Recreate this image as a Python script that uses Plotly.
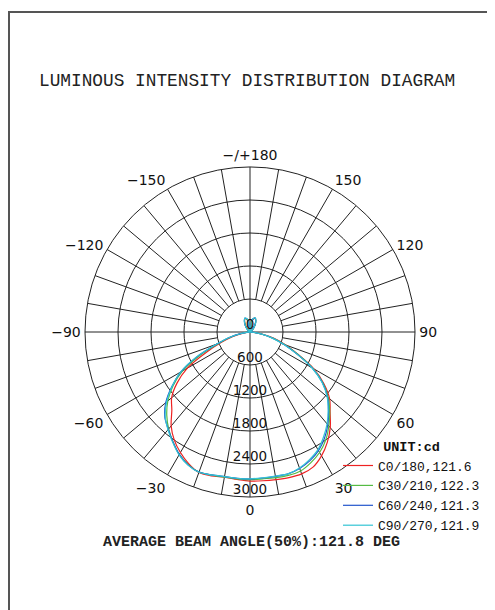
import plotly.graph_objects as go

# ---------------- data ----------------
THETA = [-180, -170, -160, -150, -140, -130, -120, -110, -100,
         -90, -85, -80, -75, -70, -65, -60, -55, -50, -45, -40, -35, -30, -25, -20, -15, -10, -5,
         0, 5, 10, 15, 20, 25, 30, 35, 40, 45, 50, 55, 60, 65, 70, 75, 80, 85, 90,
         100, 110, 120, 130, 140, 150, 160, 170, 180]

C0_180 = [0, 200, 260, 190, 100, 35, 10, 0, 0,
          0, 30, 140, 330, 560, 880, 1320, 1620, 1860, 2010, 2230, 2400, 2530, 2640, 2720, 2710, 2680, 2690,
          2710, 2715, 2725, 2740, 2745, 2710, 2600, 2450, 2270, 2060, 1890, 1640, 1340, 960, 690, 450, 220, 50, 0,
          0, 0, 10, 40, 110, 200, 265, 210, 0]

C30_210 = [0, 210, 265, 195, 105, 38, 10, 0, 0,
           0, 35, 160, 370, 610, 1000, 1420, 1710, 1950, 2140, 2300, 2440, 2570, 2660, 2710, 2695, 2680, 2680,
           2685, 2680, 2690, 2700, 2690, 2620, 2530, 2400, 2230, 2050, 1860, 1620, 1320, 950, 670, 430, 210, 45, 0,
           0, 0, 10, 42, 115, 205, 270, 220, 0]

C60_240 = [0, 225, 268, 198, 108, 40, 10, 0, 0,
           0, 38, 175, 390, 640, 1060, 1450, 1740, 2000, 2190, 2310, 2440, 2570, 2665, 2710, 2690, 2670, 2670,
           2670, 2665, 2665, 2670, 2640, 2580, 2490, 2360, 2200, 2020, 1840, 1610, 1310, 940, 660, 420, 205, 42, 0,
           0, 0, 10, 44, 118, 208, 272, 228, 0]

C90_270 = [0, 230, 270, 200, 110, 40, 10, 0, 0,
           0, 40, 180, 400, 650, 1080, 1460, 1730, 1980, 2180, 2320, 2450, 2580, 2670, 2715, 2690, 2670, 2670,
           2670, 2660, 2660, 2670, 2630, 2560, 2470, 2330, 2180, 2010, 1830, 1600, 1300, 930, 650, 410, 200, 40, 0,
           0, 0, 10, 45, 120, 210, 275, 230, 0]

SERIES_NAMES = ["C0/180,121.6", "C30/210,122.3", "C60/240,121.3", "C90/270,121.9"]
SERIES_COLORS = ["#ee2222", "#55bb44", "#2255cc", "#33c4d4"]

RADIAL_TICKS = [600, 1200, 1800, 2400, 3000]
ANGLE_TICKVALS = [0, 30, 60, 90, 120, 150, 180, 210, 240, 270, 300, 330]
ANGLE_TICKTEXT = ["0", "30", "60", "90", "120", "150", "\u2212/+180",
                  "\u2212150", "\u2212120", "\u221290", "\u221260", "\u221230"]

TITLE = "LUMINOUS INTENSITY DISTRIBUTION DIAGRAM"
FOOTER = "AVERAGE BEAM ANGLE(50%):121.8 DEG"
UNIT = "UNIT:cd"
R_MAX = 3000

# ---------------- figure ----------------
fig = go.Figure()

# spokes every 10 degrees (from first ring outward), main axes through center
spoke_r, spoke_t = [], []
for a in range(0, 360, 10):
    r0 = 0 if a % 90 == 0 else RADIAL_TICKS[0]
    spoke_r += [r0, R_MAX, None]
    spoke_t += [a, a, None]
fig.add_trace(go.Scatterpolar(r=spoke_r, theta=spoke_t, mode="lines",
                              line=dict(color="#222222", width=1),
                              showlegend=False, hoverinfo="skip"))

for vals, name, col in zip([C0_180, C30_210, C60_240, C90_270], SERIES_NAMES, SERIES_COLORS):
    fig.add_trace(go.Scatterpolar(r=vals, theta=THETA, mode="lines", name=name,
                                  line=dict(color=col, width=1.2, shape="spline", smoothing=0.8)))

# radial value labels along the 0-degree axis
fig.add_trace(go.Scatterpolar(r=[0] + RADIAL_TICKS, theta=[0] * (len(RADIAL_TICKS) + 1),
                              mode="text", text=["0"] + [str(v) for v in RADIAL_TICKS],
                              textposition="top center",
                              textfont=dict(family="DejaVu Sans", size=13.5, color="#111"),
                              showlegend=False, hoverinfo="skip", cliponaxis=False))

# page body has an 8px margin: figure is sized/positioned to compensate
W, H = 487, 602
OFF = 8
def px_x(x):
    return (x - OFF) / W
def px_y(y):
    return 1 - (y - OFF) / H

fig.update_layout(
    width=W, height=H,
    margin=dict(l=0, r=0, t=0, b=0),
    paper_bgcolor="white", plot_bgcolor="white",
    polar=dict(
        domain=dict(x=[px_x(85), px_x(415)], y=[px_y(497), px_y(167)]),
        bgcolor="white",
        angularaxis=dict(rotation=-90, direction="counterclockwise",
                         tickmode="array", tickvals=ANGLE_TICKVALS, ticktext=ANGLE_TICKTEXT,
                         showgrid=False, showline=True, linecolor="#222222", linewidth=1,
                         ticks="outside", ticklen=1, tickcolor="rgba(0,0,0,0)",
                         tickfont=dict(family="DejaVu Sans", size=14, color="#111")),
        radialaxis=dict(range=[0, R_MAX], tickmode="array", tickvals=RADIAL_TICKS,
                        showticklabels=False, ticks="", showline=False,
                        showgrid=True, gridcolor="#222222", gridwidth=1),
    ),
    showlegend=True,
    legend=dict(x=px_x(338), y=px_y(433), xanchor="left", yanchor="top",
                bgcolor="rgba(0,0,0,0)", itemwidth=30,
                font=dict(family="Liberation Mono", size=13, color="#111"),
                title=dict(text="<b>" + UNIT + "</b>", side="top center",
                           font=dict(family="Liberation Mono", size=13.5, color="#111"))),
    annotations=[
        dict(text=TITLE, x=px_x(247), y=px_y(81), xref="paper", yref="paper",
             showarrow=False, xanchor="center", yanchor="middle",
             font=dict(family="Liberation Mono", size=17.8, color="#222")),
        dict(text="<b>" + FOOTER + "</b>", x=px_x(251), y=px_y(542), xref="paper", yref="paper",
             showarrow=False, xanchor="center", yanchor="middle",
             font=dict(family="Liberation Mono", size=15, color="#222")),
    ],
    shapes=[dict(type="rect", xref="paper", yref="paper",
                 x0=px_x(9), x1=1.1, y0=-0.1, y1=px_y(12),
                 line=dict(color="#555555", width=2), fillcolor="rgba(0,0,0,0)", layer="below")],
)

fig.write_html("out.html")
